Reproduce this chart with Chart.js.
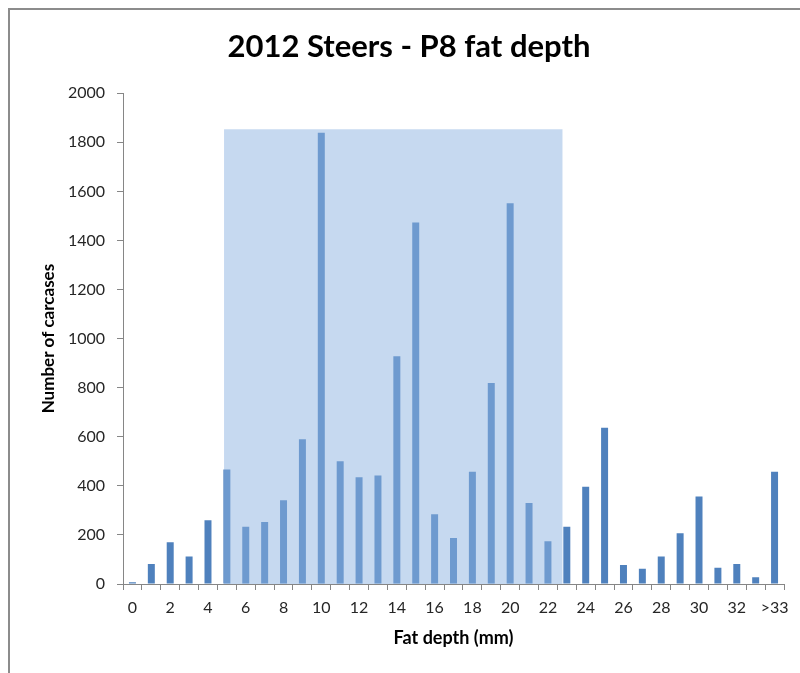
<!DOCTYPE html>
<html>
<head>
<meta charset="utf-8">
<script src="https://cdn.jsdelivr.net/npm/chart.js@4/dist/chart.umd.min.js"></script>
<style>
  html, body { margin: 0; padding: 0; background: #fff; }
  #wrap { position: relative; width: 800px; height: 673px; overflow: hidden; }
  #frame { position: absolute; left: 8px; top: 8px; right: -4px; bottom: -4px;
           border-left: 2px solid #8c8c8c; border-top: 2px solid #8c8c8c; }
  canvas { position: absolute; left: 0; top: 0; }
</style>
</head>
<body>
<div id="wrap">
  <div id="frame"></div>
  <canvas id="chart" width="800" height="673"></canvas>
</div>
<script>
'use strict';
// fat depth categories (mm)
var depths = ['0','1','2','3','4','5','6','7','8','9','10','11','12','13','14','15','16',
  '17','18','19','20','21','22','23','24','25','26','27','28','29','30','31','32','33','>33'];
var carcases = [7, 81, 170, 112, 260, 467, 233, 253, 341, 590, 1839, 500, 435, 442, 928, 1473, 284,
  187, 457, 819, 1552, 330, 174, 233, 396, 637, 77, 62, 112, 207, 357, 66, 82, 27, 457];
var yTicks = [0, 200, 400, 600, 800, 1000, 1200, 1400, 1600, 1800, 2000];

// highlighted range (category index units / count)
var shadeFrom = 4.85;
var shadeTo = 22.77;
var shadeTop = 1853;

var shadePlugin = {
  id: 'shade',
  afterDatasetsDraw: function(chart) {
    var x = chart.scales.x, y = chart.scales.y, ctx = chart.ctx;
    var left = x.getPixelForValue(shadeFrom), right = x.getPixelForValue(shadeTo);
    var top = y.getPixelForValue(shadeTop), bottom = y.getPixelForValue(0);
    ctx.save();
    ctx.fillStyle = 'rgba(142,180,225,0.5)';
    ctx.fillRect(left, top, right - left, bottom - top);
    ctx.restore();
  }
};

var gray = '#868686';
var font = 'Lato, "Liberation Sans", sans-serif';

new Chart(document.getElementById('chart'), {
  type: 'bar',
  data: {
    labels: depths,
    datasets: [{
      data: carcases,
      backgroundColor: '#4F81BD',
      barPercentage: 0.37,
      categoryPercentage: 1.0
    }]
  },
  options: {
    responsive: false,
    animation: false,
    layout: { padding: { top: 20, right: 16, bottom: 19, left: 34 } },
    plugins: {
      legend: { display: false },
      tooltip: { enabled: false },
      title: {
        display: true,
        text: '2012 Steers - P8 fat depth',
        color: '#000',
        font: { family: font, size: 31, weight: 'bold' },
        padding: { top: 8, bottom: 28 }
      }
    },
    scales: {
      x: {
        afterFit: function(s) { s.height = 70; },
        border: { color: gray, width: 1 },
        grid: { drawOnChartArea: false, drawTicks: true, tickLength: 6, color: gray },
        ticks: {
          autoSkip: false, maxRotation: 0, padding: 8,
          color: '#262626', font: { family: font, size: 16 },
          callback: function(v, i) { return i % 2 === 0 ? depths[i] : ''; }
        },
        title: {
          display: true, text: 'Fat depth (mm)', color: '#000',
          font: { family: font, size: 18, weight: 'bold' },
          padding: { top: 0, bottom: 5 }
        }
      },
      y: {
        min: 0, max: 2000,
        afterFit: function(s) { s.width = 89; },
        afterBuildTicks: function(s) { s.ticks = yTicks.map(function(v) { return { value: v }; }); },
        border: { color: gray, width: 1 },
        grid: { drawOnChartArea: false, drawTicks: true, tickLength: 6, color: gray },
        ticks: {
          padding: 12, color: '#262626', font: { family: font, size: 16 },
          callback: function(v) { return String(v); }
        },
        title: {
          display: true, text: 'Number of carcases', color: '#000',
          font: { family: font, size: 17, weight: 'bold' },
          padding: { top: 4, bottom: 0 }
        }
      }
    }
  },
  plugins: [shadePlugin]
});
</script>
</body>
</html>
